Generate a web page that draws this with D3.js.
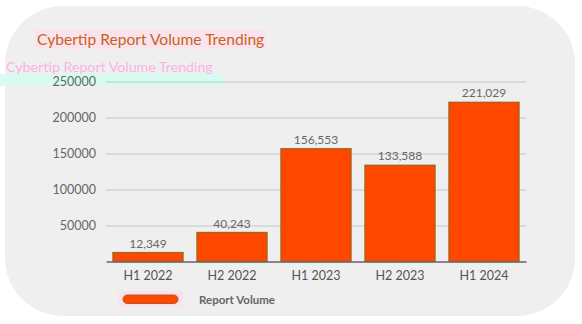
<!DOCTYPE html>
<html><head><meta charset="utf-8">
<script src="https://cdn.jsdelivr.net/npm/d3@7"></script>
<style>html,body{margin:0;padding:0;background:#fff;}svg{display:block;font-family:Lato,"Noto Sans",sans-serif;}</style>
</head><body>
<script>
const categories = ["H1 2022","H2 2022","H1 2023","H2 2023","H1 2024"];
const reportVolume = [12349, 40243, 156553, 133588, 221029];
const yTicks = [50000, 100000, 150000, 200000, 250000];
const title = "Cybertip Report Volume Trending";
const seriesName = "Report Volume";

const W = 582, H = 324;
const svg = d3.select("body").append("svg").attr("width", W).attr("height", H);

// card
svg.append("rect").attr("x",5).attr("y",6).attr("width",570).attr("height",310)
  .attr("rx",58).attr("ry",58).attr("fill","#efefef");

// title with faint highlight
svg.append("rect").attr("x",35).attr("y",30).attr("width",230).attr("height",19).attr("fill","#fbe3ee");
svg.append("text").attr("x",37).attr("y",44.5).attr("font-size",15.6).attr("fill","#c8621e")
  .text(title);

// ghost of the title (artifact in reference)
svg.append("rect").attr("x",0).attr("y",74).attr("width",224).attr("height",12).attr("fill","#d8fbf1");
svg.append("text").attr("x",6).attr("y",71.5).attr("font-size",14.2).attr("fill","#f7b5e3").text(title);

const x = d3.scaleBand().domain(categories).range([106,526]).paddingInner(1/6).paddingOuter(1/12);
const y = d3.scaleLinear().domain([0,250000]).range([261.5,81.5]);

// gridlines + y labels
const yAxis = d3.axisLeft(y).tickValues(yTicks).tickSize(-420).tickPadding(10).tickFormat(d3.format("d"));
const gy = svg.append("g").attr("transform","translate(106,0)").call(yAxis);
gy.select(".domain").remove();
gy.selectAll(".tick line").attr("stroke","#c6c6c6").attr("stroke-width",1);
gy.selectAll(".tick text").attr("font-size",12.5).attr("fill","#666").attr("font-family","Lato,'Noto Sans',sans-serif");

// bars
svg.append("g").selectAll("rect").data(reportVolume).join("rect")
  .attr("x",(d,i)=>x(categories[i]))
  .attr("y",d=>y(d))
  .attr("width",x.bandwidth())
  .attr("height",d=>y(0)-y(d))
  .attr("fill","#ff4700")
  .attr("stroke","#a8641a").attr("stroke-width",1.4);

// value labels
svg.append("g").selectAll("text").data(reportVolume).join("text")
  .attr("x",(d,i)=>x(categories[i])+x.bandwidth()/2)
  .attr("y",d=>y(d)-5)
  .attr("text-anchor","middle").attr("font-size",12).attr("fill","#666")
  .text(d=>d3.format(",")(d));

// x axis
const xAxis = d3.axisBottom(x).tickSize(0).tickPadding(10);
const gx = svg.append("g").attr("transform",`translate(0,${y(0)})`).call(xAxis);
gx.select(".domain").attr("stroke","#666").attr("stroke-width",1.5);
gx.selectAll(".tick text").attr("font-size",12.5).attr("fill","#555").attr("font-family","Lato,'Noto Sans',sans-serif");

// legend
svg.append("rect").attr("x",118).attr("y",291).attr("width",65).attr("height",16).attr("rx",4).attr("fill","#fbe0ee");
svg.append("rect").attr("x",123).attr("y",295).attr("width",55).attr("height",8.5).attr("rx",4.25)
  .attr("fill","#ff4700").attr("stroke","#a8641a").attr("stroke-width",1);
svg.append("text").attr("x",199).attr("y",304).attr("font-size",11.5).attr("font-weight","bold")
  .attr("fill","#666").text(seriesName);
</script>
</body></html>
